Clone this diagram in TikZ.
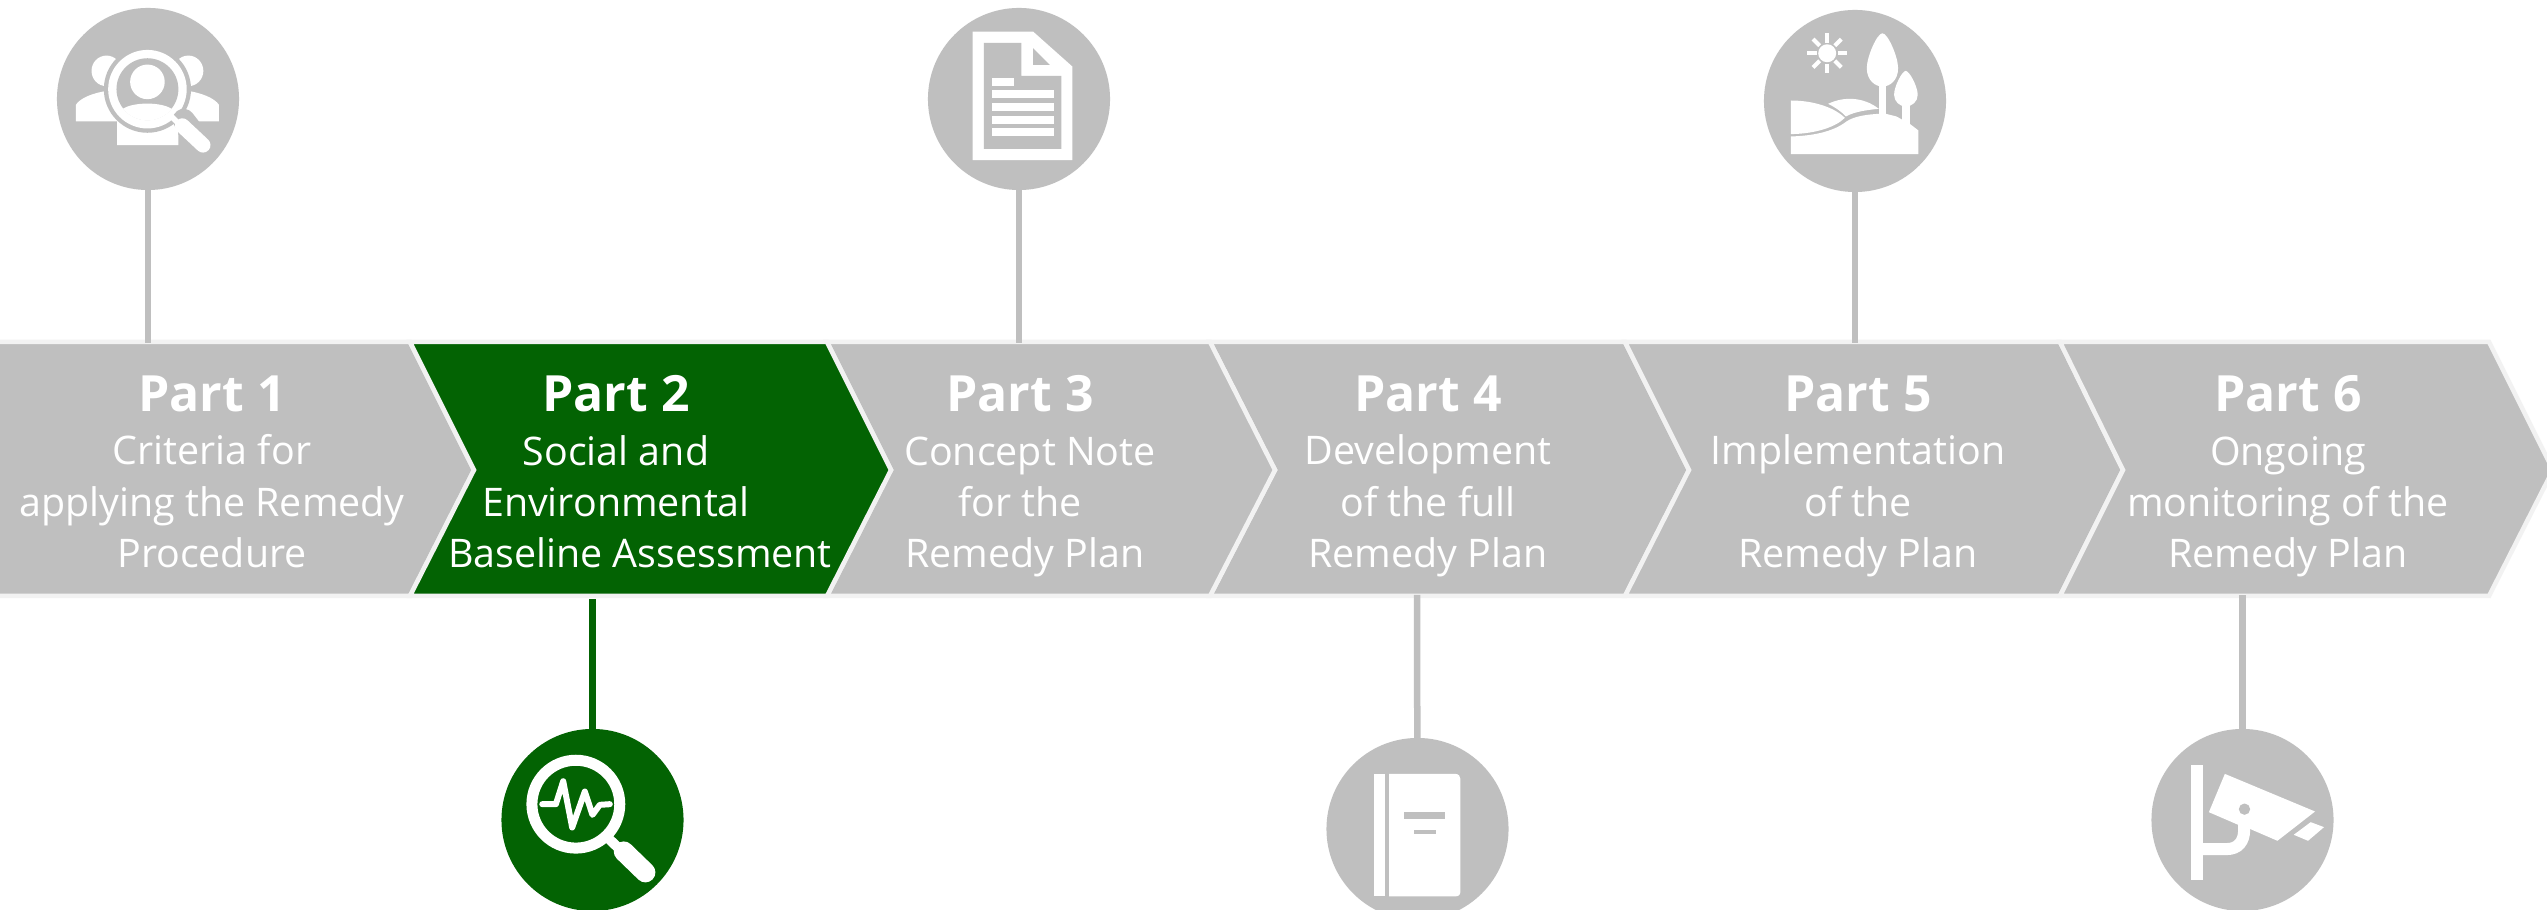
\documentclass[tikz,border=0pt]{standalone}
\usepackage{fontspec}
\setmainfont{Open Sans}
\definecolor{gry}{HTML}{BFBFBF}
\definecolor{grn}{HTML}{036303}
\definecolor{edgec}{HTML}{F2F2F2}
\tikzset{
  chev/.style={fill=gry,draw=edgec,line width=0.045cm,line join=miter},
  chevg/.style={chev,fill=grn},
  bub/.style={circle,fill=gry,minimum size=1.82cm,inner sep=0pt,outer sep=0pt},
  bubg/.style={bub,fill=grn},
  stem/.style={gry,line width=0.065cm},
  stemg/.style={grn,line width=0.065cm},
  lbl/.style={text=white,align=center,inner sep=0pt,font=\fontsize{11.2pt}{14.6pt}\selectfont,anchor=north},
  ico/.style={shift={#1},x=0.003333cm,y=-0.003333cm},
}
\newcommand{\hd}[1]{{\fontsize{14.2pt}{14.6pt}\selectfont\bfseries #1}\\[0.6pt]}
\begin{document}
\begin{tikzpicture}[x=0.01cm,y=-0.01cm]
\useasboundingbox (0,0) rectangle (2547,910);
\fill[white] (0,0) rectangle (2547,910);
% chevrons
\draw[chev] (-20,342) -- (410,342) -- (474,470) -- (410,596) -- (-20,596) -- cycle;
\draw[chev] (1210,342) -- (1625,342) -- (1689,470) -- (1625,596) -- (1210,596) -- (1275,470) -- cycle;
\draw[chev] (827,342) -- (1210,342) -- (1275,470) -- (1210,596) -- (827,596) -- (891,470) -- cycle;
\draw[chev] (1625,342) -- (2060,342) -- (2123,470) -- (2060,596) -- (1625,596) -- (1689,470) -- cycle;
\draw[chev] (2060,342) -- (2489,342) -- (2553,470) -- (2489,596) -- (2060,596) -- (2123,470) -- cycle;
\draw[chevg] (410,342) -- (827,342) -- (891,470) -- (827,596) -- (410,596) -- (474,470) -- cycle;
% anchors on the band
\coordinate (t1) at (148,343);
\coordinate (t3) at (1019,343);
\coordinate (t5) at (1855,343);
\coordinate (b2) at (592.5,599);
\coordinate (b4) at (1417,595);
\coordinate (b6) at (2242.5,595);
% circles
\node[bub] (c1) at (148,99) {};
\node[bub] (c3) at (1019,99) {};
\node[bub] (c5) at (1855,101) {};
\node[bubg] (c2) at (592.5,820) {};
\node[bub] (c4) at (1417.5,829) {};
\node[bub] (c6) at (2242.5,820) {};
\draw[stem] (c1) -- (t1);
\draw[stem] (c3) -- (t3);
\draw[stem] (c5) -- (t5);
\draw[stemg] (c2) -- (b2);
\draw[stem] (c4) -- (b4);
\draw[stem] (c6) -- (b6);
% labels
\node[lbl] (p1) at (212,375) {\hd{Part 1}Criteria for\\applying the Remedy\\Procedure};
\node[lbl] (p2) at (616,375) {\hd{Part 2}Social and\\Environmental\\\hspace*{0.48cm}Baseline Assessment};
\node[lbl] (p3) at (1020,375) {\hd{Part 3}\hspace*{0.2cm}Concept Note\\for the\\\hspace*{0.1cm}Remedy Plan};
\node[lbl] (p4) at (1428,375) {\hd{Part 4}Development\\of the full\\Remedy Plan};
\node[lbl] (p5) at (1858,375) {\hd{Part 5}Implementation\\of the\\Remedy Plan};
\node[lbl] (p6) at (2288,375) {\hd{Part 6}Ongoing\\monitoring of the\\Remedy Plan};
% icon 1: people and lens
\begin{scope}[ico={(0,0)}]
  \fill[white] (320,213) ellipse (45 and 46);
  \fill[white] (566,213) ellipse (45 and 46);
  \fill[white] (228,365) -- (228,315) .. controls (240,295) and (280,278) .. (330,272) -- (360,365) -- cycle;
  \fill[white] (658,365) -- (658,315) .. controls (645,295) and (605,278) .. (556,272) -- (526,365) -- cycle;
  \fill[white] (352,350) -- (530,350) -- (536,410) -- (536,436) -- (352,436) -- cycle;
  \fill[gry] (443,268) circle (131);
  \fill[white] (443,268) circle (118);
  \fill[gry] (443,268) circle (93);
  \fill[white] (443,246) circle (52);
  \begin{scope}
    \clip (443,268) circle (94);
    \fill[white] (365,330) .. controls (395,305) and (490,305) .. (520,330) -- (520,380) -- (365,380) -- cycle;
  \end{scope}
  \draw[gry,line width=0.22cm,line cap=round] (552,360) -- (610,435);
  \draw[white,line width=0.055cm] (515,350) -- (550,385);
  \draw[white,line width=0.15cm,line cap=round] (548,378) -- (610,436);
\end{scope}
% icon 3: document
\begin{scope}[ico={(900,0)}]
  \fill[white] (218,95) -- (400,95) -- (518,200) -- (518,481) -- (218,481) -- cycle;
  \fill[gry] (252,129) -- (365,129) -- (365,228) -- (485,228) -- (485,447) -- (252,447) -- cycle;
  \fill[gry] (400,145) -- (400,195) -- (450,195) -- cycle;
  \fill[white] (276,233) rectangle (343,257);
  \fill[white] (276,271) rectangle (462,295);
  \fill[white] (276,310) rectangle (462,333);
  \fill[white] (276,348) rectangle (462,372);
  \fill[white] (276,386) rectangle (462,409);
\end{scope}
% icon 5: landscape
\begin{scope}[ico={(1740,0)}]
  \fill[white] (262,160) circle (27);
  \foreach \a in {0,45,...,315}
    \draw[white,line width=0.04cm,shift={(262,160)}] (\a:32) -- (\a:60);
  \fill[white] (428,100) .. controls (412,100) and (381,170) .. (381,205) .. controls (381,240) and (405,260) .. (428,260) .. controls (452,260) and (475,240) .. (475,205) .. controls (475,170) and (444,100) .. (428,100) -- cycle;
  \fill[white] (417,250) rectangle (438,345);
  \fill[white] (498,213) .. controls (487,213) and (463,260) .. (463,285) .. controls (463,305) and (480,320) .. (498,320) .. controls (517,320) and (534,305) .. (534,285) .. controls (534,260) and (509,213) .. (498,213) -- cycle;
  \fill[white] (487,310) rectangle (510,372);
  \fill[white] (153,302) .. controls (215,302) and (280,320) .. (315,354) .. controls (290,380) and (230,402) .. (153,403) -- cycle;
  \fill[white] (265,312) .. controls (310,290) and (370,290) .. (417,327) .. controls (385,330) and (345,335) .. (318,350) .. controls (305,335) and (285,322) .. (265,312) -- cycle;
  \fill[white] (153,410) .. controls (230,408) and (285,392) .. (320,365) .. controls (345,348) and (385,344) .. (417,342) -- (438,342) -- (470,350) -- (510,372) -- (536,392) -- (536,463) -- (153,463) -- cycle;
\end{scope}
% icon 2: pulse lens
\begin{scope}[ico={(480,710)}]
  \draw[white,line width=0.11cm] (288,283) circle (132);
  \draw[white,line width=0.06cm,line join=round,line cap=round] (187,283) -- (228,283) -- (250,214) -- (277,353) -- (315,245) -- (338,315) -- (360,285) -- (390,283);
  \draw[white,line width=0.1cm] (385,385) -- (430,428);
  \draw[white,line width=0.2cm,line cap=round] (432,425) -- (497,488);
\end{scope}
% icon 4: book
\begin{scope}[ico={(1300,720)}]
  \fill[white] (222,162) rectangle (255,530);
  \fill[white] (268,162) -- (467,162) .. controls (477,162) and (482,170) .. (482,177) -- (482,515) .. controls (482,525) and (477,530) .. (467,530) -- (268,530) -- cycle;
  \fill[gry] (313,276) rectangle (437,298);
  \fill[gry] (343,330) rectangle (410,344);
\end{scope}
% icon 6: camera
\begin{scope}[ico={(2130,710)}]
  \fill[white] (182,165) rectangle (218,512);
  \draw[white,line width=0.12cm] (210,418) -- (290,418) .. controls (325,418) and (343,395) .. (343,360) -- (343,340);
  \fill[white] (285,192) -- (556,305) -- (443,393) -- (362,358) -- (325,345) -- (237,307) -- cycle;
  \fill[gry] (344,298) circle (17);
  \fill[white] (543,337) -- (583,352) -- (535,393) -- (492,375) -- cycle;
\end{scope}
\end{tikzpicture}
\end{document}
